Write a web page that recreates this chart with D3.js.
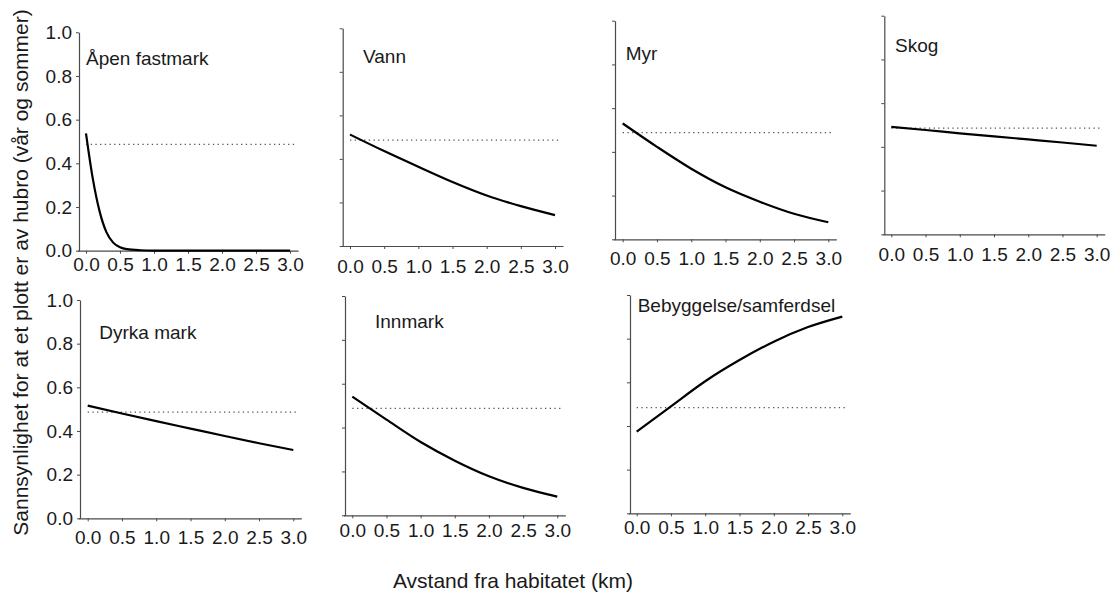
<!DOCTYPE html>
<html>
<head>
<meta charset="utf-8">
<script src="https://d3js.org/d3.v7.min.js"></script>
<style>
  body { margin: 0; background: #fff; }
  svg { font-family: "Liberation Sans", Arial, sans-serif; }
</style>
</head>
<body>
<div id="chart"></div>
<script>
// habitat categories (panel titles)
var categories = ["Åpen fastmark", "Vann", "Myr", "Skog", "Dyrka mark", "Innmark", "Bebyggelse/samferdsel"]

// distance values (km) where the curves were read
var distFine = [0, 0.1, 0.2, 0.3, 0.4, 0.5, 0.6, 0.8, 1.0, 1.5, 2.0, 2.5, 3.0]
var distKm = [0, 0.5, 1.0, 1.5, 2.0, 2.5, 3.0]

// probability
var apenProb = [0.537, 0.33, 0.18, 0.085, 0.037, 0.016, 0.007, 0.002, 0.0005, 0, 0, 0, 0]
var vannProb = [0.512, 0.436, 0.364, 0.294, 0.232, 0.183, 0.142]
var myrProb = [0.530, 0.423, 0.323, 0.238, 0.172, 0.117, 0.078]
var skogProb = [0.491, 0.477, 0.462, 0.448, 0.434, 0.420, 0.405]
var dyrkaProb = [0.516, 0.480, 0.445, 0.411, 0.377, 0.344, 0.313]
var innmarkProb = [0.541, 0.436, 0.334, 0.249, 0.178, 0.125, 0.085]
var bebygProb = [0.374, 0.490, 0.605, 0.702, 0.786, 0.853, 0.901]

// dotted reference level in each panel
var refLevel = [0.487, 0.486, 0.488, 0.486, 0.486, 0.488, 0.484]

var xTicks = [0, 0.5, 1.0, 1.5, 2.0, 2.5, 3.0]
var yTicks = [0, 0.2, 0.4, 0.6, 0.8, 1.0]

var series = [
  {x: distFine, y: apenProb},
  {x: distKm, y: vannProb},
  {x: distKm, y: myrProb},
  {x: distKm, y: skogProb},
  {x: distKm, y: dyrkaProb},
  {x: distKm, y: innmarkProb},
  {x: distKm, y: bebygProb}
]

// panel placement: y-axis x, x of 0 and 3 km, y of 1.0 and 0.0, tick label padding, title position
var panels = [
  {ax: 79,    x0: 86,    x3: 290,    top: 32.3, bot: 250.7, pad: 3.6,  tx: 86,    ty: 65,    ylab: true},
  {ax: 342.7, x0: 350,   x3: 555,    top: 28.3, bot: 246,   pad: 10.8, tx: 363,   ty: 63.3,  ylab: false},
  {ax: 615,   x0: 622.7, x3: 828.3,  top: 20.7, bot: 239.3, pad: 9,    tx: 625.7, ty: 60,    ylab: false},
  {ax: 884.3, x0: 891.3, x3: 1096.7, top: 15.7, bot: 234.3, pad: 10.5, tx: 895,   ty: 51.7,  ylab: false},
  {ax: 80,    x0: 87.7,  x3: 293.3,  top: 300,  bot: 518.3, pad: 9.5,  tx: 99.3,  ty: 339.3, ylab: true},
  {ax: 345,   x0: 352.3, x3: 557.3,  top: 296,  bot: 515.3, pad: 5.5,  tx: 375,   ty: 328.3, ylab: false},
  {ax: 630,   x0: 636.7, x3: 842.3,  top: 295,  bot: 513.3, pad: 4.5,  tx: 637.7, ty: 312.3, ylab: false}
]

var width = 1112, height = 594

var svg = d3.select("#chart")
  .append("svg")
  .attr("width", width)
  .attr("height", height)

var axisColor = "#4a4a4a"
var textColor = "#1a1a1a"

panels.forEach(function(p, i) {
  var x = d3.scaleLinear().domain([0, 3]).range([p.x0, p.x3])
  var y = d3.scaleLinear().domain([0, 1]).range([p.bot, p.top])
  // axis line runs a bit past 0 and 3
  var xAxisScale = d3.scaleLinear()
    .domain([x.invert(p.ax - 1.5), x.invert(p.x3 + 8)])
    .range([p.ax - 1.5, p.x3 + 8])

  var g = svg.append("g")

  // x axis
  var gx = g.append("g")
    .attr("transform", "translate(0," + p.bot + ")")
    .call(d3.axisBottom(xAxisScale).tickValues(xTicks).tickSize(3).tickSizeOuter(0)
      .tickPadding(p.pad).tickFormat(d3.format(".1f")))
  gx.select(".domain").attr("stroke", axisColor).attr("stroke-width", 1.2)
  gx.selectAll(".tick line").attr("stroke", axisColor)
  gx.selectAll("text").attr("font-size", 19).attr("font-family", "Liberation Sans, Arial, sans-serif").attr("fill", textColor)

  // y axis
  var gy = g.append("g")
    .attr("transform", "translate(" + p.ax + ",0)")
    .call(d3.axisLeft(y).tickValues(yTicks).tickSize(3).tickSizeOuter(0)
      .tickPadding(4).tickFormat(p.ylab ? d3.format(".1f") : ""))
  gy.select(".domain").attr("stroke", axisColor).attr("stroke-width", 1.2)
  gy.selectAll(".tick line").attr("stroke", axisColor)
  gy.selectAll("text").attr("font-size", 19).attr("font-family", "Liberation Sans, Arial, sans-serif").attr("fill", textColor)

  // dotted reference line
  g.append("line")
    .attr("x1", x(0))
    .attr("x2", x(3.08))
    .attr("y1", y(refLevel[i]))
    .attr("y2", y(refLevel[i]))
    .attr("stroke", "#555")
    .attr("stroke-width", 1.3)
    .attr("stroke-dasharray", "1.3,3.4")

  // probability curve
  var s = series[i]
  var pts = s.x.map(function(d, j) { return [d, s.y[j]] })
  var line = d3.line()
    .x(function(d) { return x(d[0]) })
    .y(function(d) { return y(d[1]) })
    .curve(d3.curveMonotoneX)
  g.append("path")
    .attr("d", line(pts))
    .attr("fill", "none")
    .attr("stroke", "#000")
    .attr("stroke-width", 2.2)

  // title
  g.append("text")
    .attr("x", p.tx)
    .attr("y", p.ty)
    .attr("font-size", 19)
    .attr("fill", textColor)
    .text(categories[i])
})

// axis titles
svg.append("text")
  .attr("x", 513)
  .attr("y", 588)
  .attr("text-anchor", "middle")
  .attr("font-size", 21)
  .attr("fill", textColor)
  .text("Avstand fra habitatet (km)")

svg.append("text")
  .attr("transform", "translate(28,272.5) rotate(-90)")
  .attr("text-anchor", "middle")
  .attr("font-size", 21)
  .attr("fill", textColor)
  .text("Sannsynlighet for at et plott er av hubro (vår og sommer)")
</script>
</body>
</html>
